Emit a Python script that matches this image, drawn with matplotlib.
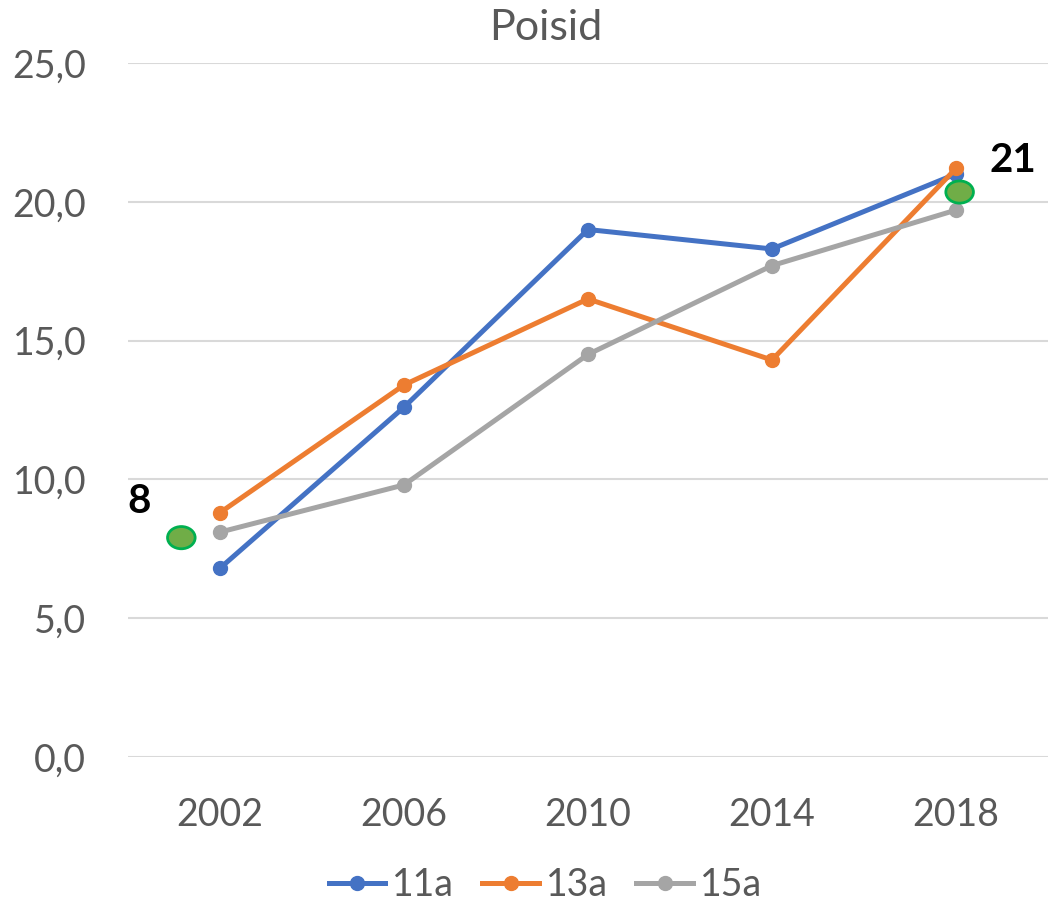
import numpy as np
import matplotlib
matplotlib.use('Agg')
import matplotlib.pyplot as plt
from matplotlib.patches import Ellipse
from matplotlib.ticker import FuncFormatter
from matplotlib.lines import Line2D

plt.rcParams['font.family'] = ['Lato', 'DejaVu Sans']

# data
years = ['2002', '2006', '2010', '2014', '2018']
s11a = [6.8, 12.6, 19.0, 18.3, 21.0]
s13a = [8.8, 13.4, 16.5, 14.3, 21.2]
s15a = [8.1, 9.8, 14.5, 17.7, 19.7]
series_names = ['11a', '13a', '15a']
series_colors = ['#4472C4', '#ED7D31', '#A5A5A5']

# green highlight markers and their labels
mark_x = [-0.21, 4.02]
mark_y = [7.9, 20.35]
mark_text = ['8', '21']
text_x = [-0.44, 4.31]
text_y = [9.2, 21.5]

fig = plt.figure(figsize=(10.49, 9.06), dpi=100)
ax = fig.add_axes([0.122, 0.1645, 0.877, 0.766])

x = np.arange(len(years))
for vals, col in zip([s11a, s13a, s15a], series_colors):
    ax.plot(x, vals, color=col, lw=3.6, marker='o', ms=10, solid_capstyle='round', zorder=3)

for mx, my in zip(mark_x, mark_y):
    ax.add_patch(Ellipse((mx, my), 0.15, 0.8, facecolor='#70AD47',
                         edgecolor='#00B050', lw=2, zorder=4))
for tx, ty, t in zip(text_x, text_y, mark_text):
    ax.text(tx, ty, t, fontsize=29, fontweight='bold', color='black',
            ha='center', va='center', zorder=5)

ax.set_xlim(-0.5, 4.5)
ax.set_ylim(0, 25)
ax.set_yticks(np.arange(0, 26, 5))
ax.yaxis.set_major_formatter(FuncFormatter(lambda v, p: f'{v:.1f}'.replace('.', ',')))
ax.set_xticks(x)
ax.set_xticklabels(years)
ax.grid(axis='y', color='#D9D9D9', lw=1.5)
ax.set_axisbelow(True)
for sp in ax.spines.values():
    sp.set_visible(False)
ax.tick_params(axis='both', length=0, labelsize=27, labelcolor='#595959')
ax.tick_params(axis='x', pad=29)
ax.tick_params(axis='y', pad=30)

fig.text(0.52, 0.969, 'Poisid', fontsize=31, color='#595959', ha='center', va='center')

handles = [Line2D([0], [0], color=c, lw=3.6, marker='o', ms=10) for c in series_colors]
fig.legend(handles, series_names, loc='center', bbox_to_anchor=(0.52, 0.023), ncol=3,
           frameon=False, fontsize=27, labelcolor='#595959', handlelength=1.5,
           handletextpad=0.2, columnspacing=0.75, borderaxespad=0)

fig.savefig('out.png', dpi=100)
